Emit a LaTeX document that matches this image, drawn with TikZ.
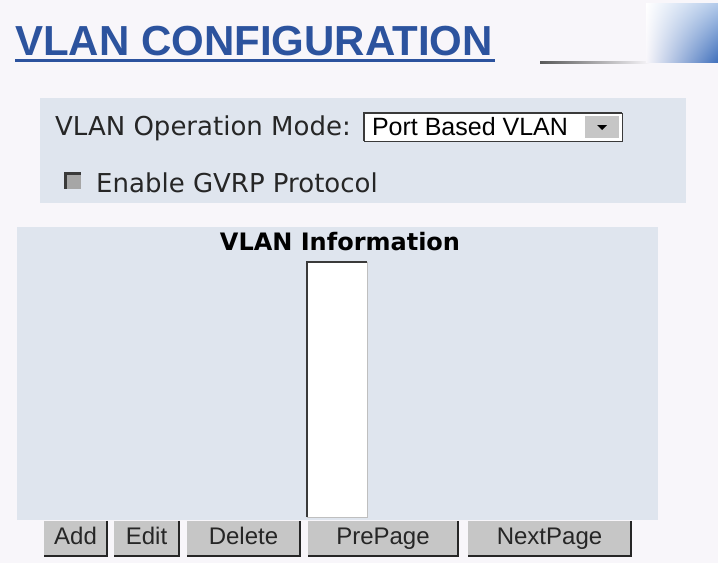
\documentclass[tikz,border=0pt]{standalone}
\usepackage{fontspec}
\usetikzlibrary{shadings}
\newfontfamily\verdfont{DejaVu Sans}
\newfontfamily\arialfont{Liberation Sans}
\definecolor{pagebg}{HTML}{F8F6FA}
\definecolor{panelbg}{HTML}{DFE5EE}
\definecolor{titleblue}{HTML}{2C539E}
\definecolor{btngray}{HTML}{C6C6C6}
\definecolor{boxdark}{HTML}{3A3A3A}
\definecolor{decolight}{HTML}{B3CAEA}
\definecolor{decodark}{HTML}{4070BC}
\tikzset{
  lbl/.style={font=\verdfont\fontsize{26}{26}\selectfont, text=black!85, inner sep=0pt, anchor=west},
  btn/.style={fill=btngray, minimum height=35pt, inner sep=0pt, text height=17pt, text depth=5pt, font=\arialfont\fontsize{24}{24}\selectfont, text=black!85},
  sunken/.style={line width=2.5pt, draw=boxdark},
  raised/.style={line width=2.5pt, draw=black!85},
}

\begin{document}
\begin{tikzpicture}[x=1pt,y=-1pt]
  \fill[pagebg] (0,0) rectangle (718,563);
  \useasboundingbox (0,0) rectangle (718,563);
  % title and header
  \node[anchor=base west, inner sep=0pt, font=\arialfont\bfseries\fontsize{42}{42}\selectfont, text=titleblue] (title) at (15,55) {VLAN CONFIGURATION};
  \draw[titleblue, line width=3pt] ([yshift=-5pt]title.base west) -- ([xshift=2pt,yshift=-5pt]title.base east);
  \shade[left color=black!65, right color=pagebg] (540,61) rectangle (650,63);
  \shade[upper left=white, upper right=decolight, lower left=pagebg, lower right=decodark] (646,3) rectangle (718,62);
  % mode panel
  \fill[panelbg] (40,98) rectangle (686,203);
  \node[lbl] (modelbl) at (55,128) {VLAN Operation Mode:};
  \node[fill=white, draw=boxdark, minimum width=258pt, minimum height=28pt, inner sep=0pt] (mode) at (493,127) {};
  \draw[sunken] (mode.south west) -- (mode.north west) -- (mode.north east);
  \node[anchor=west, inner sep=0pt, font=\arialfont\fontsize{25}{25}\selectfont] (modeval) at ([xshift=8pt]mode.west) {Port Based VLAN};
  \node[btn, minimum width=34pt, minimum height=22pt] (arrow) at ([xshift=-20pt]mode.east) {};
  \fill ([xshift=-5pt,yshift=2pt]arrow.center) -- ([xshift=5pt,yshift=2pt]arrow.center) -- ([yshift=-3pt]arrow.center) -- cycle;
  \node[fill=black!35, minimum size=15pt, inner sep=0pt] (gvrp) at (73,181) {};
  \draw[sunken] (gvrp.south west) -- (gvrp.north west) -- (gvrp.north east);
  \node[lbl] (gvrplbl) at (96,183) {Enable GVRP Protocol};
  % information panel
  \fill[panelbg] (17,227) rectangle (658,520);
  \node[font=\verdfont\bfseries\fontsize{24}{24}\selectfont, inner sep=0pt] (info) at (340,242) {VLAN Information};
  \node[fill=white, minimum width=60pt, minimum height=255pt, inner sep=0pt] (list) at (337,389.5) {};
  \draw[black!25] (list.north east) -- (list.south east) -- (list.south west);
  \draw[sunken] (list.south west) -- (list.north west) -- (list.north east);
  % buttons
  \node[btn, minimum width=63pt] (add) at (75.5,538.5) {Add};
  \node[btn, minimum width=65pt] (edit) at (146.5,538.5) {Edit};
  \node[btn, minimum width=113pt] (delete) at (243.5,538.5) {Delete};
  \node[btn, minimum width=150pt] (prepage) at (383,538.5) {PrePage};
  \node[btn, minimum width=163pt] (nextpage) at (549.5,538.5) {NextPage};
  \foreach \b in {add,edit,delete,prepage,nextpage}
    \draw[raised] (\b.north east) -- (\b.south east) -- (\b.south west);
\end{tikzpicture}
\end{document}
